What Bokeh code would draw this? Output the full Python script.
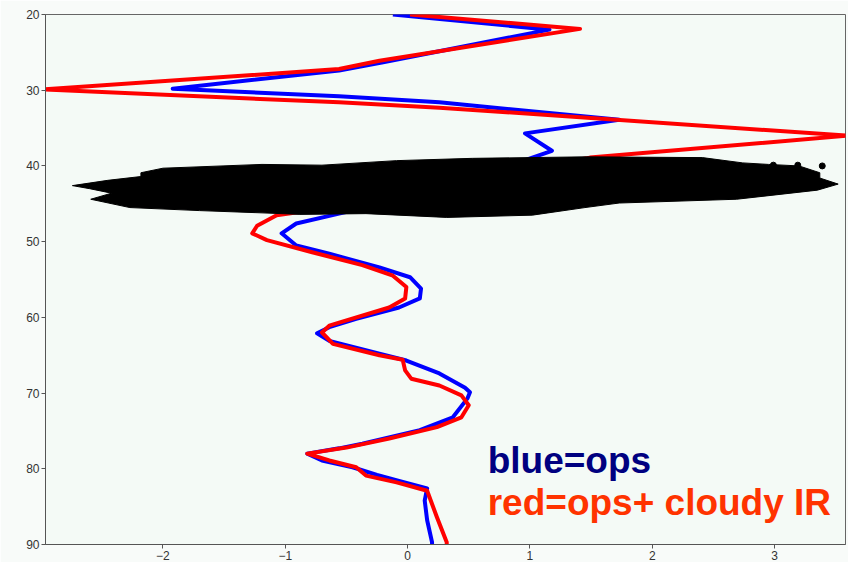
from bokeh.plotting import figure
from bokeh.models import Range1d, FixedTicker, Label
from bokeh.embed import file_html
from bokeh.resources import INLINE

# ---- data (x = value, y = level) ----
blue_x = [-0.12, 1.16, -0.20, -0.56, -1.92, -0.56, 0.26, 1.73, 0.96, 1.18, 1.02,
          0.30, -0.45, -0.56, -0.91, -1.03, -0.91, -0.64, -0.23, 0.02, 0.11, 0.10,
          -0.07, -0.42, -0.64, -0.74, -0.64, -0.23, -0.01, 0.26, 0.47, 0.51, 0.49,
          0.37, 0.10, -0.37, -0.56, -0.82, -0.70, -0.45, -0.25, -0.07, 0.16, 0.14,
          0.16, 0.20, 0.20]
blue_y = [20.0, 22.0, 26.3, 27.4, 29.8, 30.8, 31.6, 33.9, 35.7, 38.0, 38.9,
          43.0, 45.9, 46.3, 47.6, 48.9, 50.5, 51.6, 53.4, 54.7, 56.2, 57.5,
          58.7, 60.2, 61.3, 62.1, 63.1, 64.8, 65.7, 67.4, 69.3, 69.9, 70.7,
          73.2, 74.9, 76.7, 77.3, 78.0, 78.9, 79.8, 80.8, 81.6, 82.6, 84.2,
          86.8, 89.7, 90.0]

red_x = [0.02, 1.41, -0.23, -0.56, -2.98, -0.56, 0.26, 3.60, 1.49,
         0.00, -0.85, -0.97, -1.07, -1.23, -1.27, -1.15, -0.78, -0.37, -0.12, -0.01,
         -0.02, -0.15, -0.56, -0.64, -0.70, -0.61, -0.23, -0.04, -0.02, 0.03, 0.26,
         0.44, 0.50, 0.44, 0.24, -0.15, -0.50, -0.82, -0.64, -0.42, -0.34, -0.09,
         0.16, 0.24, 0.32, 0.32]
red_y = [20.0, 21.9, 26.1, 27.2, 29.9, 31.6, 32.3, 36.0, 38.9,
         43.0, 46.0, 46.3, 46.5, 47.9, 48.9, 49.8, 51.4, 53.1, 54.5, 56.0,
         57.5, 58.7, 60.7, 61.1, 62.0, 63.5, 65.0, 65.6, 67.0, 68.1, 69.0,
         70.3, 71.6, 73.2, 74.5, 76.0, 77.2, 78.0, 78.9, 79.8, 80.9, 81.8,
         82.9, 86.4, 89.7, 90.0]

# cloud outline
cloud_x = [-2.74, -2.45, -2.18, -2.18, -2.00, -1.19, -0.70, -0.09, 0.53, 1.46,
           2.41, 2.74, 2.95, 3.20, 3.37, 3.37, 3.52, 3.35, 2.69, 1.73, 1.45,
           1.02, 0.32, -0.34, -0.88, -1.19, -1.70, -2.27, -2.59, -2.42, -2.60]
cloud_y = [42.6, 41.9, 41.4, 40.9, 40.3, 39.8, 39.9, 39.3, 39.0, 38.8,
           38.9, 39.6, 39.8, 40.0, 40.9, 41.6, 42.4, 43.2, 44.4, 44.9, 45.5,
           46.5, 46.8, 46.3, 46.4, 46.2, 45.9, 45.5, 44.4, 43.6, 43.0]
blob_x = [2.99, 3.19, 3.39]
blob_y = [39.9, 39.9, 40.0]

x_ticks = [-2, -1, 0, 1, 2, 3]
y_ticks = [20, 30, 40, 50, 60, 70, 80, 90]

p = figure(width=848, height=562, output_backend="svg", toolbar_location=None,
           x_range=Range1d(-2.96, 3.58), y_range=Range1d(90, 20),
           min_border_left=45, min_border_right=3, min_border_top=14,
           min_border_bottom=18)

p.background_fill_color = "#f4faf6"
p.border_fill_color = "#f8fbf9"
p.outline_line_color = "#666666"
p.xgrid.visible = False
p.ygrid.visible = False

for ax in (p.xaxis[0], p.yaxis[0]):
    ax.axis_line_color = "#555555"
    ax.major_tick_line_color = "#555555"
    ax.minor_tick_line_color = None
    ax.major_tick_in = 0
    ax.major_tick_out = 4
    ax.major_label_text_font = "Liberation Sans"
    ax.major_label_text_font_size = "12px"
    ax.major_label_text_color = "#333333"
    ax.major_label_standoff = 2
p.xaxis.ticker = FixedTicker(ticks=x_ticks)
p.yaxis.ticker = FixedTicker(ticks=y_ticks)

p.line(blue_x, blue_y, line_color="#0000ff", line_width=4, line_join="round")
p.line(red_x, red_y, line_color="#ff0000", line_width=4, line_join="round")

p.patch(cloud_x, cloud_y, fill_color="black", line_color="black", line_width=1)
p.scatter(blob_x, blob_y, size=6, color="black")

p.add_layout(Label(x=0.655, y=78.9, text="blue=ops", text_color="#000080",
                   text_font="Liberation Sans", text_font_style="bold",
                   text_font_size="37px", text_baseline="alphabetic"))
p.add_layout(Label(x=0.655, y=84.5, text="red=ops+ cloudy IR", text_color="#ff3300",
                   text_font="Liberation Sans", text_font_style="bold",
                   text_font_size="37px", text_baseline="alphabetic"))

open("out.html", "w").write(file_html(p, INLINE))
